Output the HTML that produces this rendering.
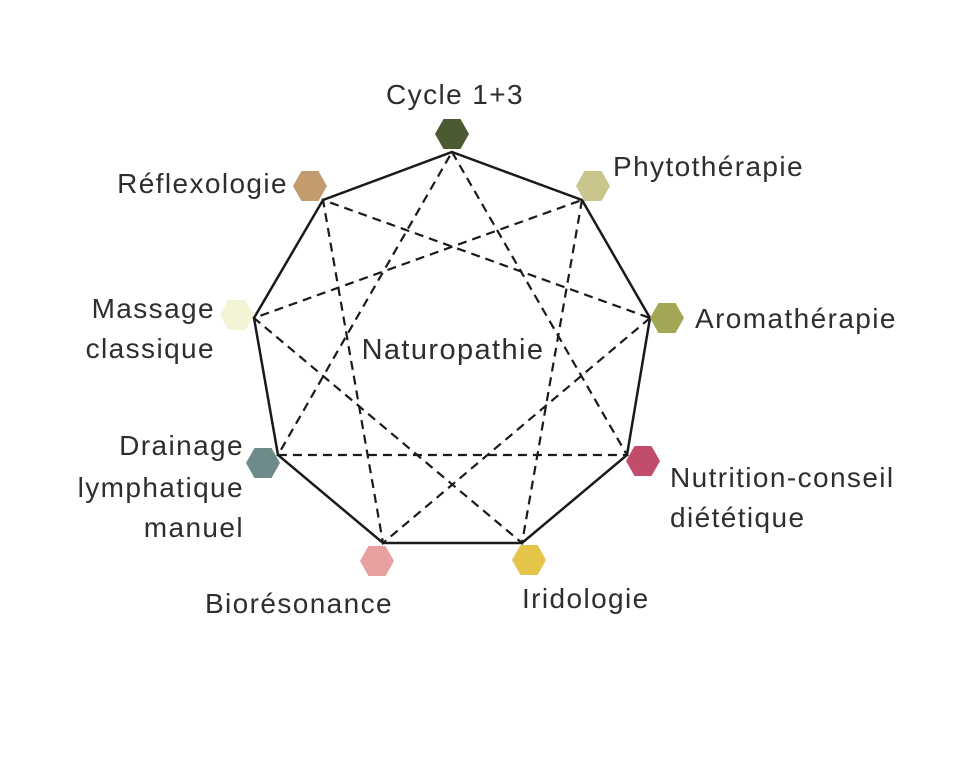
<!DOCTYPE html>
<html><head><style>body{margin:0;background:#fff}svg text{font-family:"Liberation Sans",sans-serif;font-size:28px;letter-spacing:1.4px;fill:#2e2e2e}</style></head>
<body>
<svg width="979" height="754" xmlns="http://www.w3.org/2000/svg">
<defs><polygon id="h" points="-17,0 -8.5,-15 8.5,-15 17,0 8.5,15 -8.5,15"/></defs>
<polygon points="452,152 582,200 650,318 627,455 522,543 383,543 278,455 254,318 323,200" fill="none" stroke="#1a1a1a" stroke-width="2.5"/>
<g fill="none" stroke="#1a1a1a" stroke-width="2.2" stroke-dasharray="9,6">
<polygon points="452,152 627,455 278,455"/>
<polygon points="582,200 522,543 254,318"/>
<polygon points="650,318 383,543 323,200"/>
</g>
<use href="#h" x="452" y="134" fill="#4c5a33"/>
<use href="#h" x="593" y="186" fill="#c9c58c"/>
<use href="#h" x="667" y="318" fill="#a3a655"/>
<use href="#h" x="643" y="461" fill="#c24d6a"/>
<use href="#h" x="529" y="560" fill="#e4c54a"/>
<use href="#h" x="377" y="561" fill="#e8a0a0"/>
<use href="#h" x="263" y="463" fill="#6e8a8a"/>
<use href="#h" x="237" y="315" fill="#f3f4d6"/>
<use href="#h" x="310" y="186" fill="#c49a6f"/>
<text x="455" y="104" text-anchor="middle">Cycle 1+3</text>
<text x="613" y="176">Phytothérapie</text>
<text x="695" y="328">Aromathérapie</text>
<text x="670" y="487">Nutrition-conseil</text>
<text x="670" y="527">diététique</text>
<text x="522" y="608">Iridologie</text>
<text x="393" y="613" text-anchor="end">Biorésonance</text>
<text x="244" y="455" text-anchor="end">Drainage</text>
<text x="244" y="497" text-anchor="end">lymphatique</text>
<text x="244" y="537" text-anchor="end">manuel</text>
<text x="215" y="318" text-anchor="end">Massage</text>
<text x="215" y="358" text-anchor="end">classique</text>
<text x="288" y="193" text-anchor="end">Réflexologie</text>
<text x="453" y="359" text-anchor="middle" style="font-size:29px">Naturopathie</text>
</svg>
</body></html>
